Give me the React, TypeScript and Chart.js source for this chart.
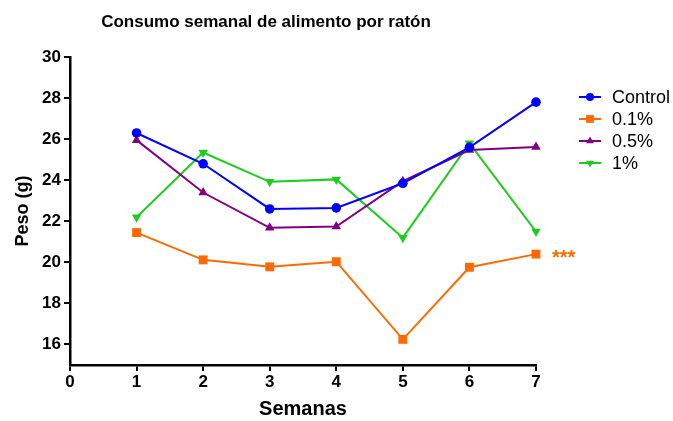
import React, { useEffect, useRef } from "react";
import { Chart, registerables } from "chart.js";

Chart.register(...registerables);

const weeks = [1, 2, 3, 4, 5, 6, 7];
const seriesNames = ["Control", "0.1%", "0.5%", "1%"];
const controlValues = [26.3, 24.8, 22.6, 22.65, 23.85, 25.6, 27.8];
const dose01Values = [21.45, 20.12, 19.78, 20.03, 16.25, 19.76, 20.4];
const dose05Values = [25.95, 23.4, 21.68, 21.74, 23.95, 25.47, 25.62];
const dose1Values = [22.2, 25.35, 23.92, 24.04, 21.2, 25.8, 21.5];
const yTickValues = [16, 18, 20, 22, 24, 26, 28, 30];
const xTickValues = [0, 1, 2, 3, 4, 5, 6, 7];

const colors = ["#0000ff", "#ff6a00", "#800080", "#1ecc1e"];
const pointStyles = ["circle", "rect", "triangle", "triangle"];
const pointRotations = [0, 0, 0, 180];
const pointRadii = [4.8, 6.3, 5.5, 5.5];

const FONT = "'Liberation Sans', Arial, Helvetica, sans-serif";

function drawMarker(ctx: CanvasRenderingContext2D, style: string, r: number, rot: number, x: number, y: number, color: string) {
  ctx.save();
  ctx.fillStyle = color;
  ctx.beginPath();
  if (style === "circle") {
    ctx.arc(x, y, r, 0, Math.PI * 2);
  } else if (style === "rect") {
    const s = Math.SQRT1_2 * r;
    ctx.rect(x - s, y - s, 2 * s, 2 * s);
  } else {
    const a = (rot * Math.PI) / 180;
    for (let k = 0; k < 3; k++) {
      const ang = a - Math.PI / 2 + (k * 2 * Math.PI) / 3;
      const px = x + Math.cos(ang) * r;
      const py = y + Math.sin(ang) * r;
      if (k === 0) ctx.moveTo(px, py);
      else ctx.lineTo(px, py);
    }
    ctx.closePath();
  }
  ctx.fill();
  ctx.restore();
}

export default function App() {
  const ref = useRef<HTMLCanvasElement | null>(null);

  useEffect(() => {
    document.body.style.margin = "0";
    const canvas = ref.current;
    if (!canvas) return;
    const all = [controlValues, dose01Values, dose05Values, dose1Values];

    const customDraw = {
      id: "customDraw",
      afterDraw(chart: any) {
        const ctx = chart.ctx;
        const xs = chart.scales.x;
        const ys = chart.scales.y;
        ctx.save();
        // title
        ctx.fillStyle = "#000";
        ctx.font = `bold 17px ${FONT}`;
        ctx.textAlign = "center";
        ctx.textBaseline = "middle";
        ctx.fillText("Consumo semanal de alimento por ratón", 266, 22);
        // significance mark
        ctx.fillStyle = colors[1];
        ctx.font = `bold 20px ${FONT}`;
        ctx.textAlign = "left";
        ctx.textBaseline = "alphabetic";
        const lx = weeks[weeks.length - 1];
        const lv = dose01Values[dose01Values.length - 1];
        ctx.fillText("***", xs.getPixelForValue(lx) + 16, ys.getPixelForValue(lv) + 10);
        // legend
        const lx0 = 579;
        const ly0 = 97;
        const dy = 22;
        seriesNames.forEach((name, i) => {
          const y = ly0 + i * dy;
          ctx.strokeStyle = colors[i];
          ctx.lineWidth = 2;
          ctx.beginPath();
          ctx.moveTo(lx0, y);
          ctx.lineTo(lx0 + 22, y);
          ctx.stroke();
          const r = i === 0 ? 4 : i === 1 ? 5.5 : 4.5;
          drawMarker(ctx, pointStyles[i], r, pointRotations[i], lx0 + 11, y, colors[i]);
          ctx.fillStyle = "#000";
          ctx.font = `18px ${FONT}`;
          ctx.textAlign = "left";
          ctx.textBaseline = "middle";
          ctx.fillText(name, lx0 + 33, y + 1);
        });
        ctx.restore();
      },
    };

    const chart = new Chart(canvas, {
      type: "line",
      data: {
        datasets: seriesNames.map((name, i) => ({
          label: name,
          data: weeks.map((w, j) => ({ x: w, y: all[i][j] })),
          borderColor: colors[i],
          backgroundColor: colors[i],
          borderWidth: 2,
          pointStyle: pointStyles[i] as any,
          rotation: pointRotations[i],
          pointRadius: pointRadii[i],
          pointBorderWidth: 0,
          tension: 0,
          clip: false as any,
        })),
      },
      options: {
        animation: false,
        responsive: false,
        maintainAspectRatio: false,
        layout: { padding: { top: 57, right: 137, left: 0, bottom: 0 } },
        plugins: {
          legend: { display: false },
          title: { display: false },
          tooltip: { enabled: false },
        },
        scales: {
          x: {
            type: "linear",
            min: 0,
            max: 7,
            afterBuildTicks: (s: any) => {
              s.ticks = xTickValues.map((v) => ({ value: v }));
            },
            afterFit: (s: any) => {
              s.height = 56;
            },
            grid: {
              display: true,
              drawOnChartArea: false,
              drawTicks: true,
              tickLength: 6,
              tickColor: "#000",
              lineWidth: 2,
              color: "#000",
            },
            border: { display: true, color: "#000", width: 2.5 },
            ticks: {
              color: "#000",
              font: { family: FONT, size: 17, weight: "bold" },
              padding: 1,
              maxRotation: 0,
            },
            title: {
              display: true,
              text: "Semanas",
              color: "#000",
              font: { family: FONT, size: 20, weight: "bold" },
              padding: { top: 2, bottom: 0 },
            },
          },
          y: {
            type: "linear",
            min: 15,
            max: 30,
            afterBuildTicks: (s: any) => {
              s.ticks = yTickValues.map((v) => ({ value: v }));
            },
            afterFit: (s: any) => {
              s.width = 70;
            },
            grid: {
              display: true,
              drawOnChartArea: false,
              drawTicks: true,
              tickLength: 6,
              tickColor: "#000",
              lineWidth: 2,
              color: "#000",
            },
            border: { display: true, color: "#000", width: 2.5 },
            ticks: {
              color: "#000",
              font: { family: FONT, size: 17, weight: "bold" },
              padding: 3,
            },
            title: {
              display: true,
              text: "Peso (g)",
              color: "#000",
              font: { family: FONT, size: 18, weight: "bold" },
              padding: { top: 12, bottom: 0 },
            },
          },
        },
      },
      plugins: [customDraw],
    });
    return () => chart.destroy();
  }, []);

  return (
    <div style={{ position: "absolute", left: 0, top: 0, width: 673, height: 421, background: "#fff" }}>
      <canvas ref={ref} width={673} height={421} style={{ width: 673, height: 421 }} />
    </div>
  );
}
